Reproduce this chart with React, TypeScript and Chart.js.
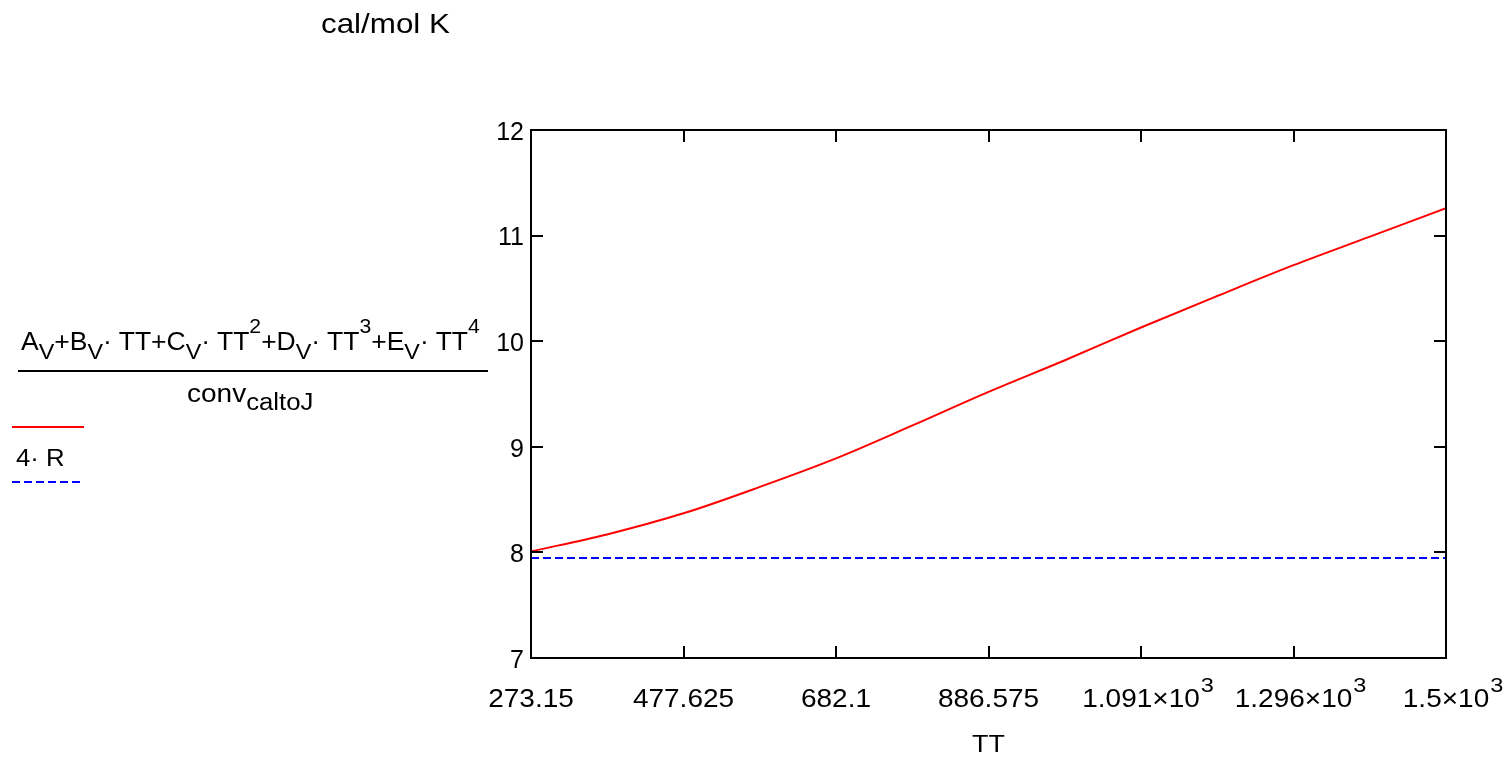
import React, { useEffect, useRef } from "react";
import { Chart, registerables } from "chart.js";

Chart.register(...registerables);

// ---- data ----
const tempK = [273.15, 375, 477.625, 580, 682.1, 784, 886.575, 989, 1091.05, 1194, 1295.525, 1398, 1500];
const cvCal = [8.01, 8.17, 8.37, 8.62, 8.89, 9.2, 9.52, 9.82, 10.13, 10.43, 10.72, 10.99, 11.26];
const fourRTemps = [273.15, 1500];
const fourRValues = [7.948, 7.948];
const xTickValues = [273.15, 477.625, 682.1, 886.575, 1091.05, 1295.525, 1500];
const xTickMain = ["273.15", "477.625", "682.1", "886.575", "1.091\u00d710", "1.296\u00d710", "1.5\u00d710"];
const xTickExp = ["", "", "", "", "3", "3", "3"];
const yTickValues = [7, 8, 9, 10, 11, 12];

const FONT = "'Liberation Sans', Arial, Helvetica, sans-serif";
const SX = 1.12;

function drawStretched(ctx: CanvasRenderingContext2D, text: string, x: number, y: number) {
  ctx.save();
  ctx.translate(x, y);
  ctx.scale(SX, 1);
  ctx.textAlign = "left";
  ctx.fillText(text, 0, 0);
  ctx.restore();
}

const framePlugin = {
  id: "frame",
  afterDraw(chart: any) {
    const { ctx, chartArea } = chart;
    const { left, right, top, bottom } = chartArea;
    const x = chart.scales.x;
    const y = chart.scales.y;
    ctx.save();
    ctx.strokeStyle = "#000";
    ctx.lineWidth = 2;
    ctx.strokeRect(left, top, right - left, bottom - top);
    const tl = 12;
    ctx.beginPath();
    x.ticks.forEach((t: any) => {
      const px = Math.round(x.getPixelForValue(t.value));
      if (px <= left + 2 || px >= right - 2) return;
      ctx.moveTo(px, bottom);
      ctx.lineTo(px, bottom - tl);
      ctx.moveTo(px, top);
      ctx.lineTo(px, top + tl);
    });
    y.ticks.forEach((t: any) => {
      const py = Math.round(y.getPixelForValue(t.value));
      if (py <= top + 2 || py >= bottom - 2) return;
      ctx.moveTo(left, py);
      ctx.lineTo(left + tl, py);
      ctx.moveTo(right, py);
      ctx.lineTo(right - tl, py);
    });
    ctx.stroke();

    // x tick labels with superscripts
    ctx.fillStyle = "#000";
    ctx.textBaseline = "alphabetic";
    x.ticks.forEach((t: any, i: number) => {
      const px = x.getPixelForValue(t.value);
      const main = xTickMain[i] ?? "";
      const exp = xTickExp[i] ?? "";
      ctx.font = `25px ${FONT}`;
      const w = ctx.measureText(main).width * SX;
      const x0 = px - w / 2;
      drawStretched(ctx, main, x0, 707);
      if (exp) {
        ctx.font = `21px ${FONT}`;
        drawStretched(ctx, exp, x0 + w + 1, 692);
      }
    });

    // x axis title
    ctx.font = `24px ${FONT}`;
    const tt = "TT";
    const tw = ctx.measureText(tt).width * SX;
    drawStretched(ctx, tt, (left + right) / 2 - tw / 2, 752);
    ctx.restore();
  },
};

const textBase: React.CSSProperties = {
  position: "absolute",
  fontFamily: FONT,
  color: "#000",
  whiteSpace: "nowrap",
  transform: `scaleX(${SX})`,
  transformOrigin: "left top",
};

function Sub({ children }: { children: React.ReactNode }) {
  return <span style={{ fontSize: 22, position: "relative", top: 9 }}>{children}</span>;
}
function Sup({ children }: { children: React.ReactNode }) {
  return <span style={{ fontSize: 20, position: "relative", top: -17 }}>{children}</span>;
}

export default function App() {
  const canvasRef = useRef<HTMLCanvasElement | null>(null);

  useEffect(() => {
    if (!canvasRef.current) return;
    const chart = new Chart(canvasRef.current, {
      type: "line",
      data: {
        datasets: [
          {
            label: "Cv",
            data: tempK.map((t, i) => ({ x: t, y: cvCal[i] })),
            borderColor: "#ff0000",
            borderWidth: 2,
            pointRadius: 0,
            cubicInterpolationMode: "monotone",
            fill: false,
          },
          {
            label: "4R",
            data: fourRTemps.map((t, i) => ({ x: t, y: fourRValues[i] })),
            borderColor: "#0000ff",
            borderWidth: 2,
            borderDash: [8, 4],
            pointRadius: 0,
            fill: false,
          },
        ],
      },
      options: {
        animation: false,
        responsive: false,
        maintainAspectRatio: false,
        layout: { padding: { left: 0, right: 65, top: 130, bottom: 0 } },
        plugins: { legend: { display: false }, tooltip: { enabled: false }, title: { display: false } },
        scales: {
          x: {
            type: "linear",
            min: 273.15,
            max: 1500,
            afterBuildTicks: (s: any) => {
              s.ticks = xTickValues.map((v) => ({ value: v }));
            },
            afterFit: (s: any) => {
              s.height = 100;
            },
            ticks: { display: false },
            grid: { display: false, drawTicks: false },
            border: { display: false },
          },
          y: {
            type: "linear",
            min: 7,
            max: 12,
            afterBuildTicks: (s: any) => {
              s.ticks = yTickValues.map((v) => ({ value: v }));
            },
            afterFit: (s: any) => {
              s.width = 531;
            },
            ticks: {
              color: "#000",
              padding: 7,
              labelOffset: 3,
              font: { family: FONT, size: 25 },
            },
            grid: { display: false, drawTicks: false },
            border: { display: false },
          },
        },
      },
      plugins: [framePlugin],
    });
    return () => chart.destroy();
  }, []);

  return (
    <div style={{ position: "fixed", left: 0, top: 0, width: 1511, height: 758, background: "#fff", overflow: "hidden" }}>
      <canvas ref={canvasRef} width={1511} height={758} style={{ position: "absolute", left: 0, top: 0 }} />
      <div style={{ ...textBase, left: 321, top: 10, fontSize: 28, lineHeight: "28px" }}>cal/mol K</div>
      <div style={{ ...textBase, transform: "scaleX(1.06)", left: 21, top: 329, fontSize: 25, lineHeight: "25px" }}>
        A<Sub>V</Sub>+B<Sub>V</Sub>&middot; TT+C<Sub>V</Sub>&middot; TT<Sup>2</Sup>+D<Sub>V</Sub>&middot; TT<Sup>3</Sup>+E<Sub>V</Sub>&middot; TT<Sup>4</Sup>
      </div>
      <div style={{ position: "absolute", left: 18, top: 370, width: 470, height: 2, background: "#000" }} />
      <div style={{ ...textBase, left: 187, top: 381, fontSize: 25, lineHeight: "25px" }}>
        conv<span style={{ fontSize: 23, position: "relative", top: 8 }}>caltoJ</span>
      </div>
      <div style={{ position: "absolute", left: 12, top: 426, width: 72, height: 2, background: "#ff0000" }} />
      <div style={{ ...textBase, left: 16, top: 447, fontSize: 23, lineHeight: "23px" }}>4&middot; R</div>
      <div
        style={{
          position: "absolute",
          left: 12,
          top: 481,
          width: 70,
          height: 2,
          backgroundImage: "repeating-linear-gradient(to right, #0000ff 0 8px, transparent 8px 12px)",
        }}
      />
    </div>
  );
}
